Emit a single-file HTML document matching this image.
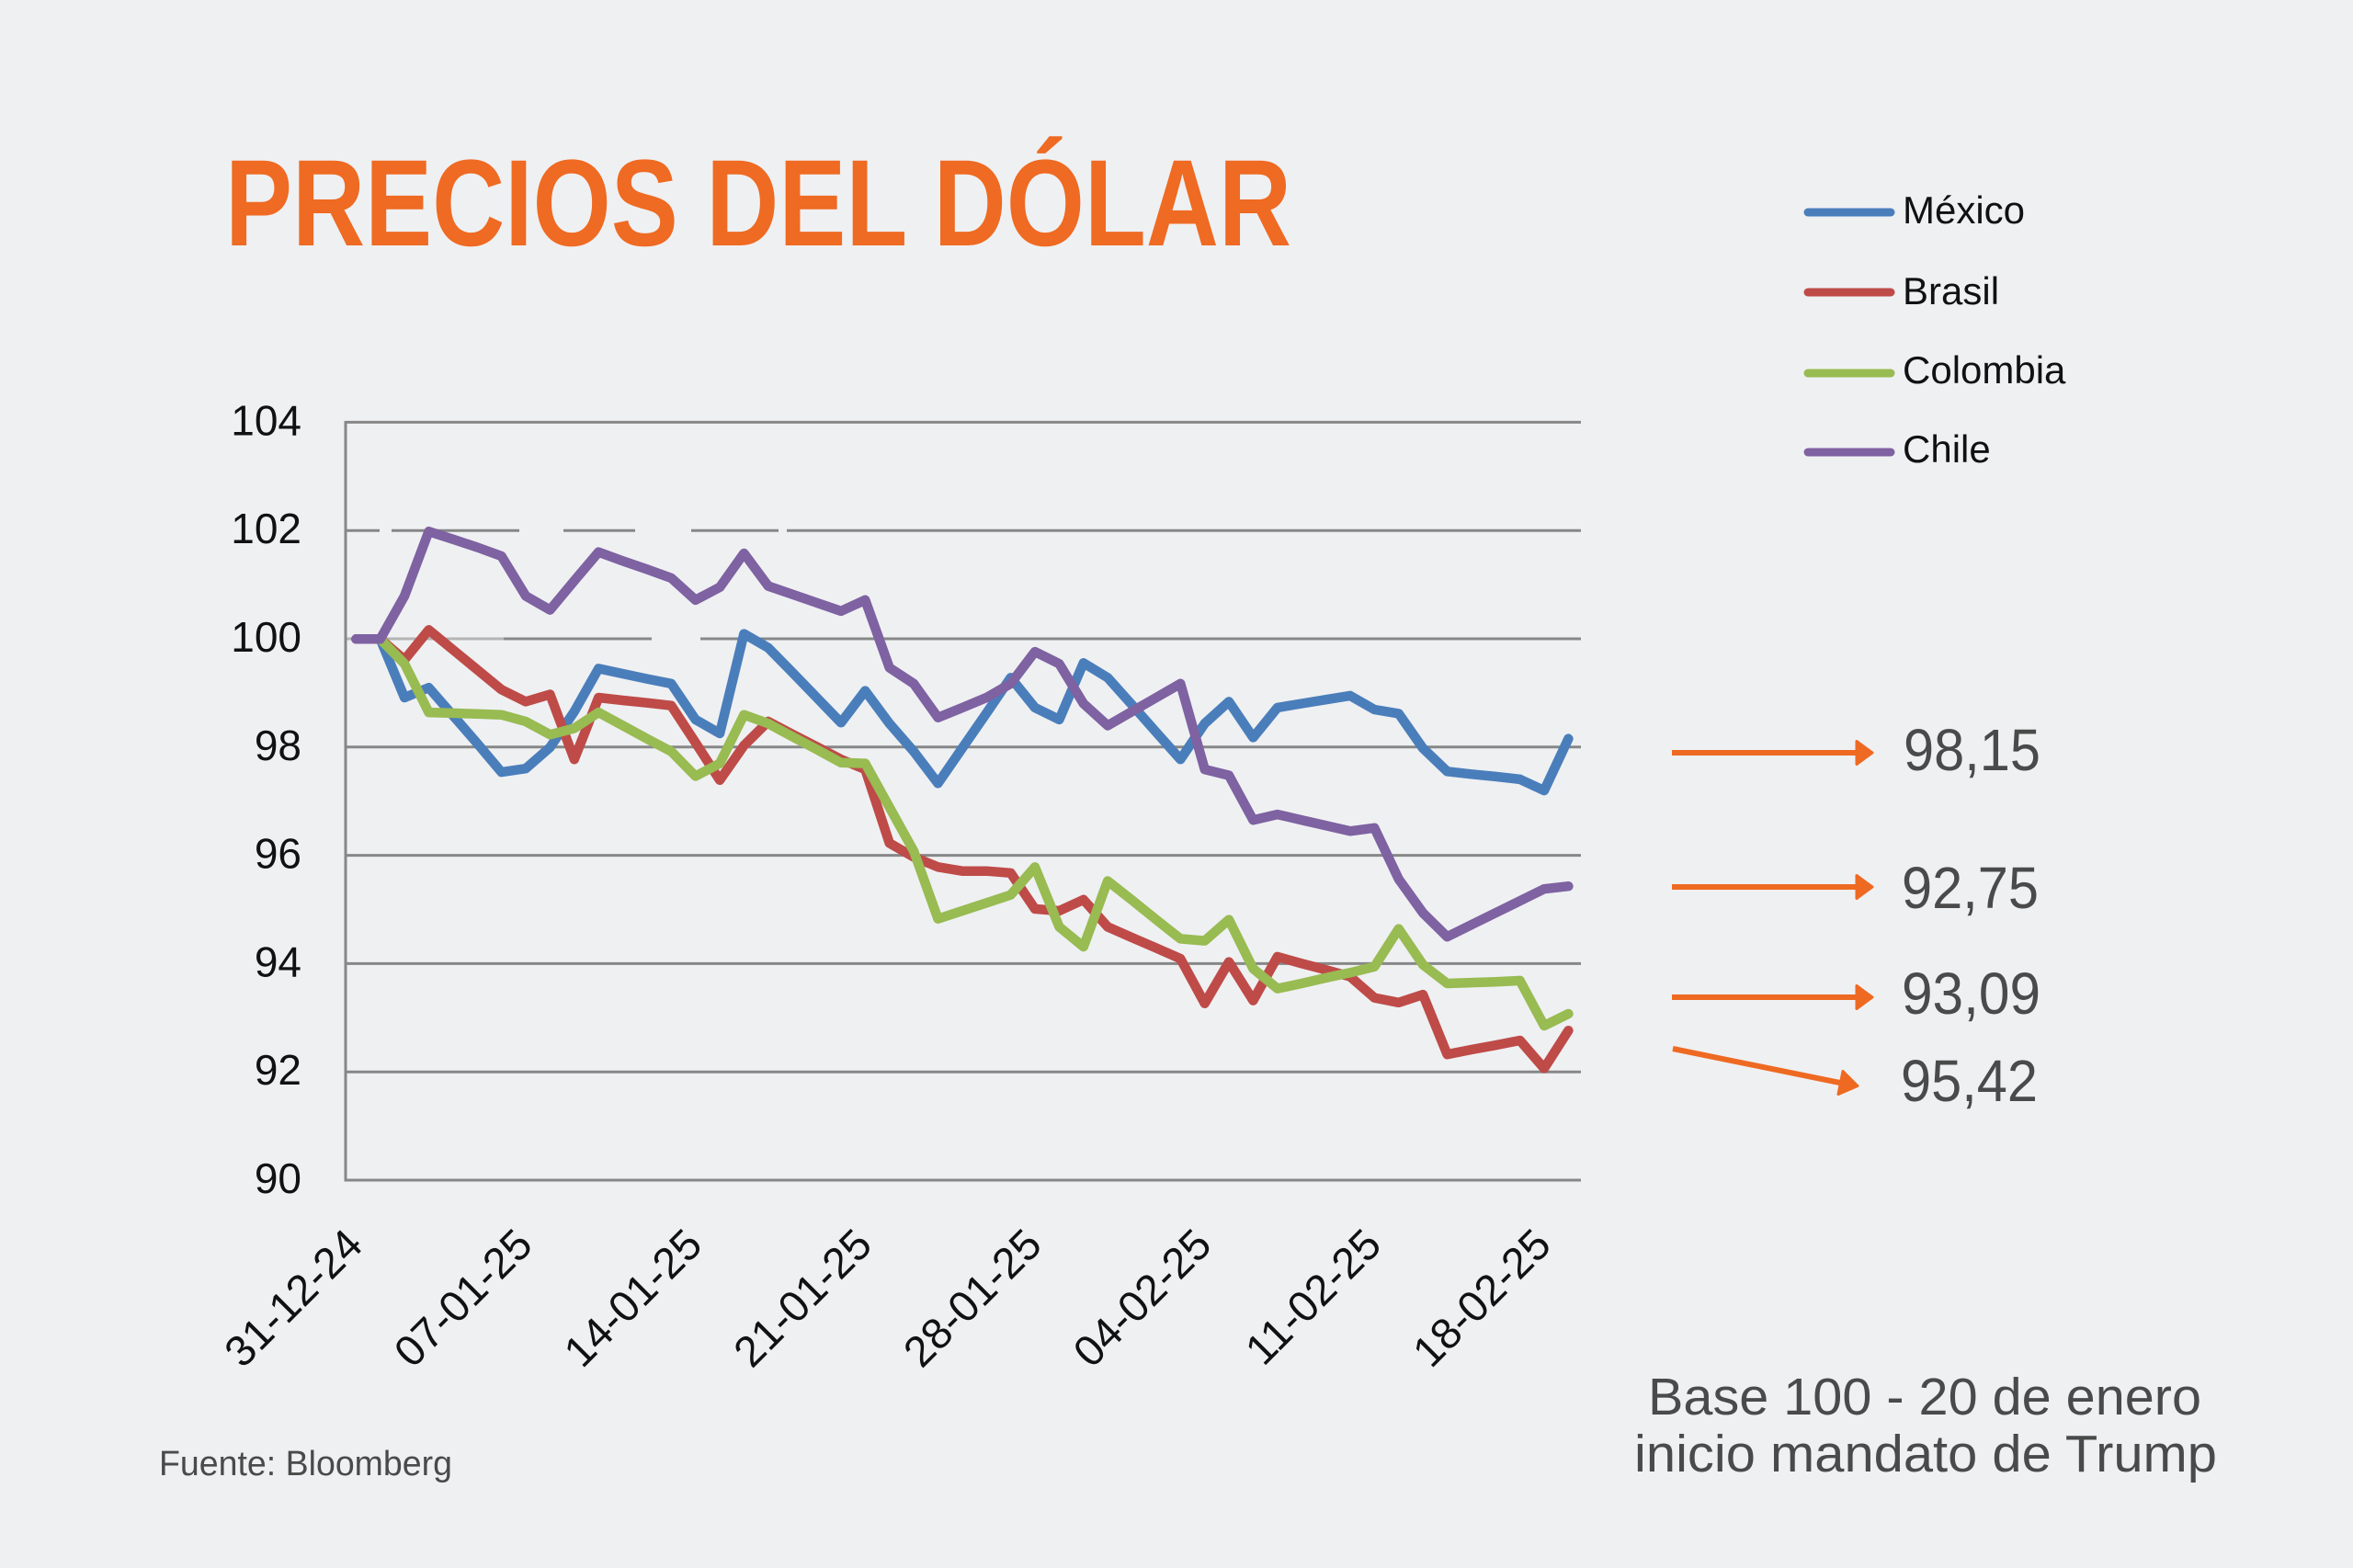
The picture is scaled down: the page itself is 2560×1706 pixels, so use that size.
<!DOCTYPE html>
<html>
<head>
<meta charset="utf-8">
<style>
  html,body{margin:0;padding:0;background:#EFF0F2;}
  svg{display:block;}
  text{font-family:"Liberation Sans",Arial,sans-serif;}
</style>
</head>
<body>
<svg width="2560" height="1706" viewBox="0 0 2560 1706" xmlns="http://www.w3.org/2000/svg">
  <rect x="0" y="0" width="2560" height="1706" fill="#EFF0F2"/>

  <!-- Title -->
  <text x="245" y="267" font-size="134" font-weight="bold" fill="#EF6A22" textLength="1160" lengthAdjust="spacingAndGlyphs">PRECIOS DEL DÓLAR</text>

  <!-- Gridlines -->
  <g stroke="#878787" stroke-width="3" fill="none">
    <line x1="376" y1="459.4" x2="1720" y2="459.4"/>
    <line x1="376" y1="577.2" x2="413" y2="577.2"/>
    <line x1="426" y1="577.2" x2="565" y2="577.2"/>
    <line x1="613" y1="577.2" x2="691" y2="577.2"/>
    <line x1="752" y1="577.2" x2="847" y2="577.2"/>
    <line x1="856" y1="577.2" x2="1720" y2="577.2"/>
    <line x1="376" y1="695" x2="548" y2="695" stroke="#b4b4b4"/>
    <line x1="548" y1="695" x2="709" y2="695"/>
    <line x1="762" y1="695" x2="1720" y2="695"/>
    <line x1="376" y1="812.8" x2="1720" y2="812.8"/>
    <line x1="376" y1="930.6" x2="1720" y2="930.6"/>
    <line x1="376" y1="1048.4" x2="1720" y2="1048.4"/>
    <line x1="376" y1="1166.2" x2="1720" y2="1166.2"/>
    <line x1="376" y1="1284" x2="1720" y2="1284"/>
    <line x1="376" y1="458" x2="376" y2="1285.5"/>
  </g>

  <!-- Y labels -->
  <g font-size="46" fill="#111" text-anchor="end">
    <text x="328" y="473.4">104</text>
    <text x="328" y="591.2">102</text>
    <text x="328" y="709">100</text>
    <text x="328" y="826.8">98</text>
    <text x="328" y="944.6">96</text>
    <text x="328" y="1062.4">94</text>
    <text x="328" y="1180.2">92</text>
    <text x="328" y="1298">90</text>
  </g>

  <!-- X labels -->
  <g font-size="47" fill="#111" text-anchor="end">
    <text x="397" y="1357" transform="rotate(-45 397 1357)">31-12-24</text>
    <text x="581.7" y="1357" transform="rotate(-45 581.7 1357)">07-01-25</text>
    <text x="766.4" y="1357" transform="rotate(-45 766.4 1357)">14-01-25</text>
    <text x="951.1" y="1357" transform="rotate(-45 951.1 1357)">21-01-25</text>
    <text x="1135.8" y="1357" transform="rotate(-45 1135.8 1357)">28-01-25</text>
    <text x="1320.5" y="1357" transform="rotate(-45 1320.5 1357)">04-02-25</text>
    <text x="1505.2" y="1357" transform="rotate(-45 1505.2 1357)">11-02-25</text>
    <text x="1689.9" y="1357" transform="rotate(-45 1689.9 1357)">18-02-25</text>
  </g>

  <!-- Series -->
  <g fill="none" stroke-width="10.5" stroke-linejoin="round" stroke-linecap="round">
    <polyline stroke="#4A7EBB" points="387.4,695.3 413.7,695.3 440.1,759 466.5,748.2 492.9,778.5 519.3,808.9 545.6,840.1 572,836.2 598.4,813.2 624.8,774.2 651.2,727.4 677.5,733 703.9,738.6 730.3,743.8 756.7,782.9 783.1,798 809.4,689.6 835.8,704.8 862.2,731.7 888.6,759 915,786.3 941.3,751.6 967.7,787.2 994.1,817.6 1020.5,852.3 1046.9,814 1073.2,776 1099.6,737.3 1126,769.9 1152.4,782.9 1178.8,721.3 1205.1,737.3 1231.5,766.8 1257.9,796.7 1284.3,826.2 1310.7,787.2 1337,763.4 1363.4,802.4 1389.8,769.9 1416.2,765.5 1442.6,761.2 1468.9,756.9 1495.3,772 1521.7,776.4 1548.1,814.1 1574.5,839.3 1600.8,842.3 1627.2,844.9 1653.6,847.9 1680,860.1 1706.4,803.7"/>
    <polyline stroke="#BE4B48" points="387.4,695.3 413.7,695.3 440.1,717.8 466.5,685.3 492.9,707 519.3,728.7 545.6,750.3 572,763.4 598.4,755.5 624.8,826.2 651.2,759 677.5,762 703.9,764.7 730.3,767.7 756.7,808 783.1,848.8 809.4,811.1 835.8,785 862.2,798.9 888.6,812.4 915,826.2 941.3,837.1 967.7,917.3 994.1,932.5 1020.5,943.3 1046.9,947.7 1073.2,947.7 1099.6,949.8 1126,988.9 1152.4,991 1178.8,978.9 1205.1,1008.4 1231.5,1020.1 1257.9,1031.4 1284.3,1043.1 1310.7,1091.7 1337,1046.6 1363.4,1088.6 1389.8,1040.9 1416.2,1048.3 1442.6,1055.2 1468.9,1062.6 1495.3,1085.6 1521.7,1090.8 1548.1,1082.1 1574.5,1147.2 1600.8,1142 1627.2,1137.2 1653.6,1132 1680,1162.4 1706.4,1121.2"/>
    <polyline stroke="#98BB52" points="413.7,695.3 440.1,722.2 466.5,775.1 492.9,775.9 519.3,776.8 545.6,777.7 572,785 598.4,799.3 624.8,792.4 651.2,775.1 677.5,789.4 703.9,803.7 730.3,817.6 756.7,844.5 783.1,830.6 809.4,777.7 835.8,787.2 862.2,801.5 888.6,815.4 915,829.7 941.3,830.6 967.7,878.3 994.1,926 1020.5,999.7 1046.9,991 1073.2,982.4 1099.6,973.7 1126,943.3 1152.4,1008.4 1178.8,1030.1 1205.1,958.5 1231.5,979.3 1257.9,1000.6 1284.3,1021.4 1310.7,1023.6 1337,1000.6 1363.4,1053.9 1389.8,1075.6 1416.2,1070 1442.6,1063.9 1468.9,1058.3 1495.3,1051.8 1521.7,1010.6 1548.1,1049.6 1574.5,1070 1600.8,1069.1 1627.2,1068.2 1653.6,1066.9 1680,1116 1706.4,1103"/>
    <polyline stroke="#7E62A1" points="387.4,695.3 413.7,695.3 440.1,648.4 466.5,578.2 492.9,586.8 519.3,595.5 545.6,605.1 572,648.4 598.4,663.6 624.8,631.9 651.2,600.7 677.5,610.3 703.9,619.4 730.3,628.9 756.7,652.8 783.1,638.9 809.4,602 835.8,637.6 862.2,646.7 888.6,655.8 915,664.9 941.3,652.8 967.7,726.5 994.1,743.8 1020.5,780.7 1046.9,770 1073.2,759 1099.6,743.8 1126,709.1 1152.4,722.2 1178.8,765.5 1205.1,789.4 1231.5,774.2 1257.9,759 1284.3,743.8 1310.7,837.1 1337,843.6 1363.4,892.2 1389.8,886.1 1416.2,892.2 1442.6,898.2 1468.9,904.3 1495.3,900.8 1521.7,956.4 1548.1,993.2 1574.5,1019.2 1600.8,1006.2 1627.2,993.2 1653.6,980.2 1680,967.2 1706.4,964.2"/>
  </g>

  <!-- Legend -->
  <g stroke-width="9" stroke-linecap="round">
    <line x1="1967" y1="231" x2="2057" y2="231" stroke="#4A7EBB"/>
    <line x1="1967" y1="318" x2="2057" y2="318" stroke="#BE4B48"/>
    <line x1="1967" y1="406" x2="2057" y2="406" stroke="#98BB52"/>
    <line x1="1967" y1="492" x2="2057" y2="492" stroke="#7E62A1"/>
  </g>
  <g font-size="42" fill="#111">
    <text x="2070" y="243">México</text>
    <text x="2070" y="331">Brasil</text>
    <text x="2070" y="417">Colombia</text>
    <text x="2070" y="503">Chile</text>
  </g>

  <!-- Arrows -->
  <g stroke="#EE6A22" stroke-width="6" fill="none" stroke-linecap="butt">
    <line x1="1819" y1="819" x2="2024" y2="819"/>
    <line x1="1819" y1="965" x2="2024" y2="965"/>
    <line x1="1819" y1="1085" x2="2024" y2="1085"/>
    <line x1="1820" y1="1141" x2="2004" y2="1178.5"/>
  </g>
  <g fill="#EE6A22" stroke="#EE6A22" stroke-width="3" stroke-linejoin="round">
    <polygon points="2020,806.5 2037,819 2020,831.5"/>
    <polygon points="2020,952.5 2037,965 2020,977.5"/>
    <polygon points="2020,1072.5 2037,1085 2020,1097.5"/>
    <polygon points="2005,1165.5 2021,1181.5 2000,1190.5"/>
  </g>

  <!-- Values -->
  <g font-size="64" fill="#4A4A4A">
    <text x="2071" y="838" textLength="149" lengthAdjust="spacingAndGlyphs">98,15</text>
    <text x="2069" y="988" textLength="149" lengthAdjust="spacingAndGlyphs">92,75</text>
    <text x="2069" y="1103" textLength="151" lengthAdjust="spacingAndGlyphs">93,09</text>
    <text x="2068" y="1198" textLength="149" lengthAdjust="spacingAndGlyphs">95,42</text>
  </g>

  <!-- Notes -->
  <g fill="#4A4A4A">
    <text x="1793" y="1539" font-size="57" textLength="602" lengthAdjust="spacingAndGlyphs">Base  100 - 20 de enero</text>
    <text x="1778" y="1601" font-size="57" textLength="634" lengthAdjust="spacingAndGlyphs">inicio mandato de Trump</text>
    <text x="173" y="1605" font-size="38" textLength="319" lengthAdjust="spacingAndGlyphs">Fuente: Bloomberg</text>
  </g>
</svg>
</body>
</html>
